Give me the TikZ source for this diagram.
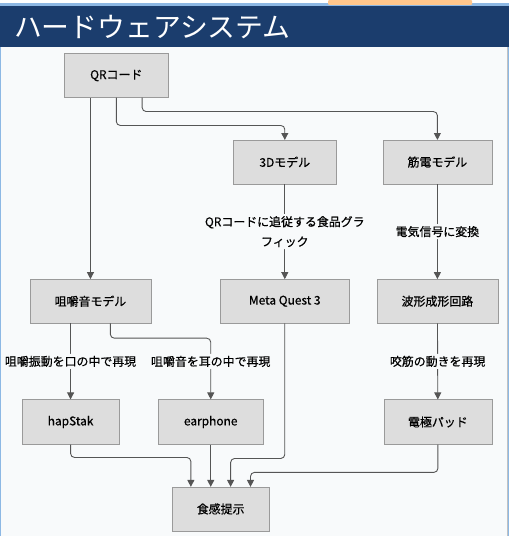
\documentclass[tikz,border=0pt]{standalone}
\usepackage{fontspec}
\setmainfont{Noto Sans CJK JP}
\newfontfamily\boxfont{Noto Sans CJK JP}[FakeBold=0.6]
\usepackage{tikz}
\usetikzlibrary{arrows.meta}

\definecolor{titlebg}{HTML}{1B3D6D}
\definecolor{canvas}{HTML}{F8FAFB}
\definecolor{frameblue}{HTML}{8DB8E4}
\definecolor{boxfill}{HTML}{DDDDDD}
\definecolor{boxline}{HTML}{9A9A9A}
\definecolor{wire}{HTML}{555555}

\begin{document}
\begin{tikzpicture}[x=1pt,y=-1pt,>={Triangle[width=7pt,length=7pt]},font=\boxfont\fontsize{12pt}{20pt}\selectfont]
\tikzstyle{box} = [draw=boxline,fill=boxfill,minimum height=44pt,inner sep=0pt]
\tikzstyle{lbl} = [fill=canvas,inner sep=2pt,align=center,text=black]
    % frame and title bar
    \fill[frameblue] (0,0) rectangle (512,536);
    \fill[orange!45,rounded corners=1pt] (330,-3) rectangle (475,2);
    \fill[canvas] (1,44) rectangle (510,536);
    \draw[boxline!60] (510,44) -- (510,536);
    \fill[titlebg] (0,3) rectangle (512,44);
    \node[anchor=west,text=white,inner sep=0pt,font=\rmfamily\fontsize{28pt}{28pt}\selectfont] (title) at (14,24) {ハードウェアシステム};

    \node[box,minimum width=104pt] (qr) at (117,73) {QRコード};
    \node[box,minimum width=103pt] (m3d) at (286.5,160) {3Dモデル};
    \node[box,minimum width=110pt] (emg) at (440,160) {筋電モデル};
    \node[box,minimum width=122pt] (chew) at (91,300) {咀嚼音モデル};
    \node[box,minimum width=129pt] (meta) at (286.5,300) {Meta Quest 3};
    \node[box,minimum width=122pt] (wave) at (440,300) {波形成形回路};
    \node[box,minimum width=98pt,minimum height=45pt] (hap) at (71,421.5) {hapStak};
    \node[box,minimum width=106pt,minimum height=45pt] (ear) at (212,421.5) {earphone};
    \node[box,minimum width=109pt,minimum height=45pt] (pad) at (440.5,421.5) {電極パッド};
    \node[box,minimum width=98pt] (taste) at (222,509) {食感提示};

    \tikzset{wirestyle/.style={->,draw=wire,line width=0.9pt,rounded corners=4pt}}
    \draw[wirestyle] ([xshift=-26pt]qr.south) -- (chew.north);
    \draw[wirestyle] (qr.south) -- ++(0,28) -| (m3d.north);
    \draw[wirestyle] ([xshift=26pt]qr.south) -- ++(0,14) -| (emg.north);
    \draw[wirestyle] (m3d) -- node[lbl] {QRコードに追従する食品グラ\\フィック} (meta);
    \draw[wirestyle] (emg) -- node[lbl] {電気信号に変換} (wave);
    \draw[wirestyle] ([xshift=-20pt]chew.south) -- node[lbl] {咀嚼振動を口の中で再現} (hap.north);
    \draw[wirestyle] ([xshift=20pt]chew.south) -- ++(0,15) -| node[lbl,pos=0.69] {咀嚼音を耳の中で再現} (ear.north);
    \draw[wirestyle] (wave) -- node[lbl] {咬筋の動きを再現} (pad);
    \draw[wirestyle] (hap.south) -- ++(0,13) -| ([xshift=-30pt]taste.north);
    \draw[wirestyle] (ear.south) -- ([xshift=-10pt]taste.north);
    \draw[wirestyle] (meta.south) -- ++(0,136) -| ([xshift=10pt]taste.north);
    \draw[wirestyle] (pad.south) -- ++(0,28) -| ([xshift=30pt]taste.north);
\end{tikzpicture}
\end{document}
